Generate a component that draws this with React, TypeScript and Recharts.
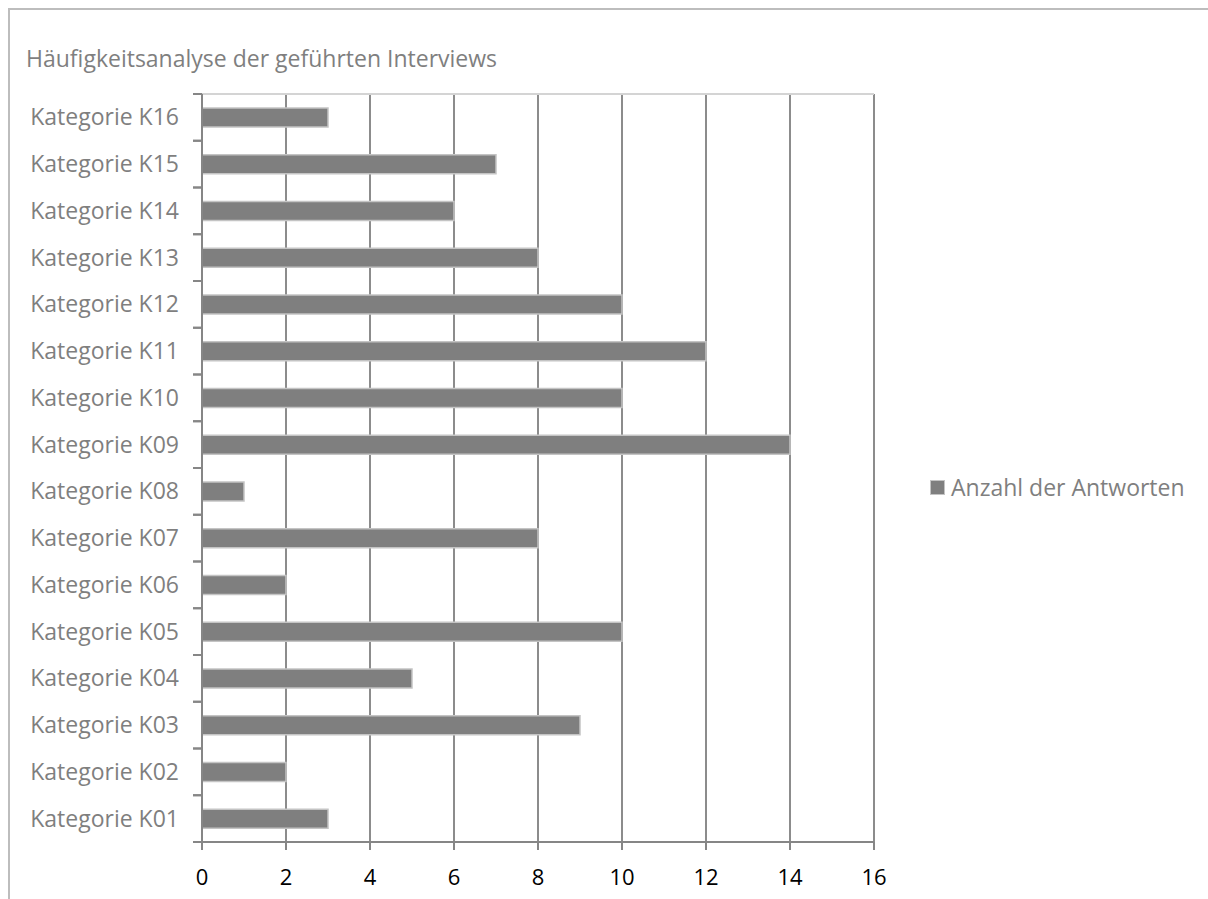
import { BarChart, Bar, XAxis, YAxis, CartesianGrid, Legend } from "recharts";

const categories = [
  "Kategorie K01",
  "Kategorie K02",
  "Kategorie K03",
  "Kategorie K04",
  "Kategorie K05",
  "Kategorie K06",
  "Kategorie K07",
  "Kategorie K08",
  "Kategorie K09",
  "Kategorie K10",
  "Kategorie K11",
  "Kategorie K12",
  "Kategorie K13",
  "Kategorie K14",
  "Kategorie K15",
  "Kategorie K16",
];
const answers = [3, 2, 9, 5, 10, 2, 8, 1, 14, 10, 12, 10, 8, 6, 7, 3];
const xTicks = [0, 2, 4, 6, 8, 10, 12, 14, 16];

const seriesName = "Anzahl der Antworten";
const title = "Häufigkeitsanalyse der geführten Interviews";

const chartData = categories.map((name, i) => ({ name, count: answers[i] }));

const W = 1200;
const H = 891;
const PLOT_LEFT = 194;
const PLOT_RIGHT = 866;
const PLOT_TOP = 86;
const PLOT_BOTTOM = 834;
const X_AXIS_H = 40;
const BAND = (PLOT_BOTTOM - PLOT_TOP) / categories.length;

const FONT = "'Open Sans', 'Noto Sans', sans-serif";
const AXIS = "#868686";
const LABEL = "#7f7f7f";

function CategoryTick(props: any) {
  const { x, y, payload } = props;
  return (
    <g>
      <line x1={x - 9} x2={x} y1={y - BAND / 2} y2={y - BAND / 2} stroke={AXIS} strokeWidth={2} />
      <line x1={x - 9} x2={x} y1={y + BAND / 2} y2={y + BAND / 2} stroke={AXIS} strokeWidth={2} />
      <text
        x={x - 23}
        y={y}
        dy="0.35em"
        textAnchor="end"
        fill={LABEL}
        fontSize={23}
        fontFamily={FONT}
      >
        {payload.value}
      </text>
    </g>
  );
}

function LegendBox() {
  return (
    <div style={{ display: "flex", alignItems: "center", fontFamily: FONT, fontSize: 23, lineHeight: "30px", color: LABEL, whiteSpace: "nowrap" }}>
      <span
        style={{
          display: "inline-block",
          width: 13,
          height: 13,
          background: "#7f7f7f",
          border: "1px solid #c4c4c4",
          marginRight: 6,
        }}
      />
      {seriesName}
    </div>
  );
}

export default function App() {
  return (
    <div style={{ position: "fixed", left: 8, top: 8, width: W, height: H, overflow: "hidden", background: "#fff" }}>
      <div
        style={{
          position: "absolute",
          left: 0,
          top: 0,
          width: W + 20,
          height: H + 20,
          borderTop: "2px solid #bdbdbd",
          borderLeft: "2px solid #bdbdbd",
        }}
      />
      <div
        style={{
          position: "absolute",
          left: 18,
          top: 35,
          fontFamily: FONT,
          fontSize: 23,
          lineHeight: "30px",
          color: LABEL,
          whiteSpace: "nowrap",
        }}
      >
        {title}
      </div>
      <div style={{ position: "absolute", left: 0, top: 0 }}>
        <BarChart
          width={W}
          height={H}
          data={chartData}
          layout="vertical"
          margin={{ top: PLOT_TOP, right: W - PLOT_RIGHT, left: 0, bottom: H - PLOT_BOTTOM - X_AXIS_H }}
        >
          <CartesianGrid horizontal={false} stroke="#8c8c8c" strokeWidth={2} />
          <CartesianGrid vertical={false} horizontalPoints={[PLOT_TOP]} stroke="#d4d4d4" strokeWidth={2} />
          <XAxis
            type="number"
            domain={[0, 16]}
            ticks={xTicks}
            height={X_AXIS_H}
            tickSize={8}
            tickMargin={19}
            tickLine={{ stroke: AXIS, strokeWidth: 2 }}
            axisLine={{ stroke: AXIS, strokeWidth: 2 }}
            tick={{ fill: "#000", fontSize: 22, fontFamily: FONT }}
          />
          <YAxis
            type="category"
            dataKey="name"
            reversed
            width={PLOT_LEFT}
            tickSize={0}
            tickMargin={0}
            tickLine={false}
            axisLine={{ stroke: AXIS, strokeWidth: 2 }}
            tick={<CategoryTick />}
            interval={0}
          />
          <Legend
            layout="horizontal"
            verticalAlign="middle"
            align="center"
            wrapperStyle={{ left: 922, top: 464, width: 275 }}
            content={() => <LegendBox />}
          />
          <Bar
            dataKey="count"
            name={seriesName}
            fill="#7f7f7f"
            stroke="#c4c4c4"
            strokeWidth={1.5}
            barSize={19}
            isAnimationActive={false}
          />
        </BarChart>
      </div>
    </div>
  );
}
